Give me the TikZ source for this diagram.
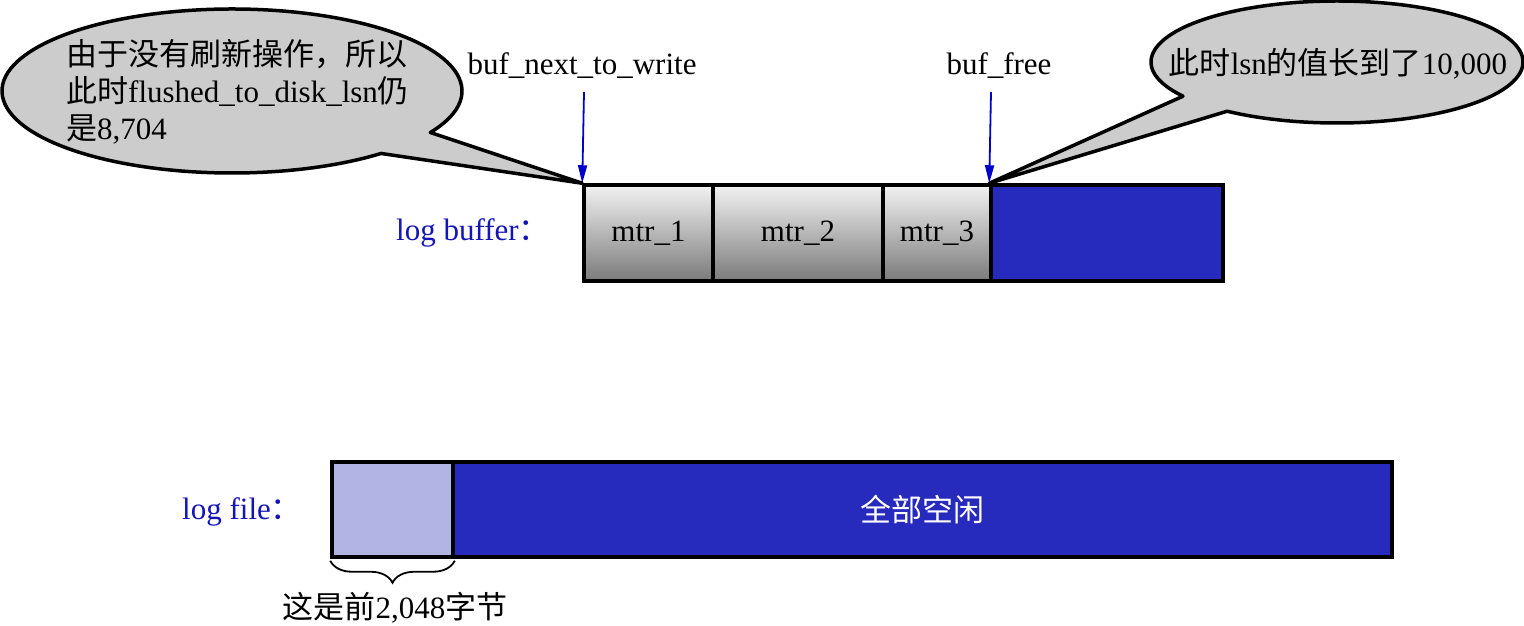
\documentclass[tikz,border=0pt]{standalone}
\usepackage{fontspec}
\setmainfont{Liberation Serif}
\newfontfamily\cjk{Noto Sans CJK SC}
\usetikzlibrary{arrows.meta,decorations.pathreplacing}
\definecolor{fillblue}{RGB}{38,42,189}
\definecolor{lightblue}{RGB}{178,180,228}
\definecolor{labelblue}{RGB}{20,20,185}
\definecolor{arrowblue}{RGB}{0,0,200}
\definecolor{balloongray}{RGB}{204,204,204}
\begin{document}
\begin{tikzpicture}[x=1pt,y=1pt,
  every node/.style={font=\fontsize{31}{37}\selectfont, inner sep=0pt},
  seg/.style={draw=black, line width=3.5pt, minimum height=96pt},
  mtrbox/.style={seg, top color=black!5, bottom color=black!52},
  bluebox/.style={seg, fill=fillblue},
  filebox/.style={draw=black, line width=3.5pt, minimum height=95pt},
  lbl/.style={text=labelblue},
  ptr/.style={draw=arrowblue, line width=1.8pt, -{Triangle[length=18pt,width=9pt]}},
  balloon/.style={fill=balloongray, draw=black, line width=3.5pt, line join=round},
  bracestyle/.style={draw=black, line width=1.8pt, decorate,
    decoration={brace, mirror, amplitude=22pt, raise=2pt}}
]
\useasboundingbox (0,0) rectangle (1524,625);

% log buffer
\node[mtrbox, minimum width=129pt] (mtr1) at (648.5,392) {mtr\_1};
\node[mtrbox, minimum width=170pt] (mtr2) at (798,392) {mtr\_2};
\node[mtrbox, minimum width=108pt] (mtr3) at (937,392) {mtr\_3};
\node[bluebox, minimum width=232pt] (free) at (1107,392) {};
\node[lbl, anchor=west] (lbuf) at (396,392) {log buffer{\cjk ：}};

% pointers
\node (nxt) at (582,559) {buf\_next\_to\_write};
\node (bfree) at (999,559) {buf\_free};
\coordinate (s1) at (584,533);
\coordinate (s2) at (991,533);
\draw[ptr] (s1) -- (mtr1.north west);
\draw[ptr] (s2) -- (free.north west);

% balloons
\path[balloon] (232,534) ++(-30.4:230 and 82)
  arc[start angle=-30.4, end angle=310.4, x radius=230, y radius=82]
  -- (mtr1.north west) -- cycle;
\node[anchor=west, align=left] (t1) at (66,533)
  {{\cjk 由于没有刷新操作，所以}\\{\cjk 此时}flushed\_to\_disk\_lsn{\cjk 仍}\\{\cjk 是}8,704};

\path[balloon] (1337,563) ++(214.1:186 and 61)
  arc[start angle=214.1, end angle=-126.2, x radius=186, y radius=61]
  -- (free.north west) -- cycle;
\node (t2) at (1338,561) {{\cjk 此时}lsn{\cjk 的值长到了}10,000};

% log file
\node[filebox, fill=lightblue, minimum width=121pt] (file1) at (392.5,115.5) {};
\node[filebox, fill=fillblue, minimum width=939pt, text=white] (file2) at (922.5,115.5) {\cjk 全部空闲};
\node[lbl, anchor=west] (lfile) at (182,113) {log file{\cjk ：}};

\draw[bracestyle] (file1.south west) -- (file1.south east);
\node (bl) at (395,17) {{\cjk 这是前}2,048{\cjk 字节}};
\end{tikzpicture}
\end{document}
